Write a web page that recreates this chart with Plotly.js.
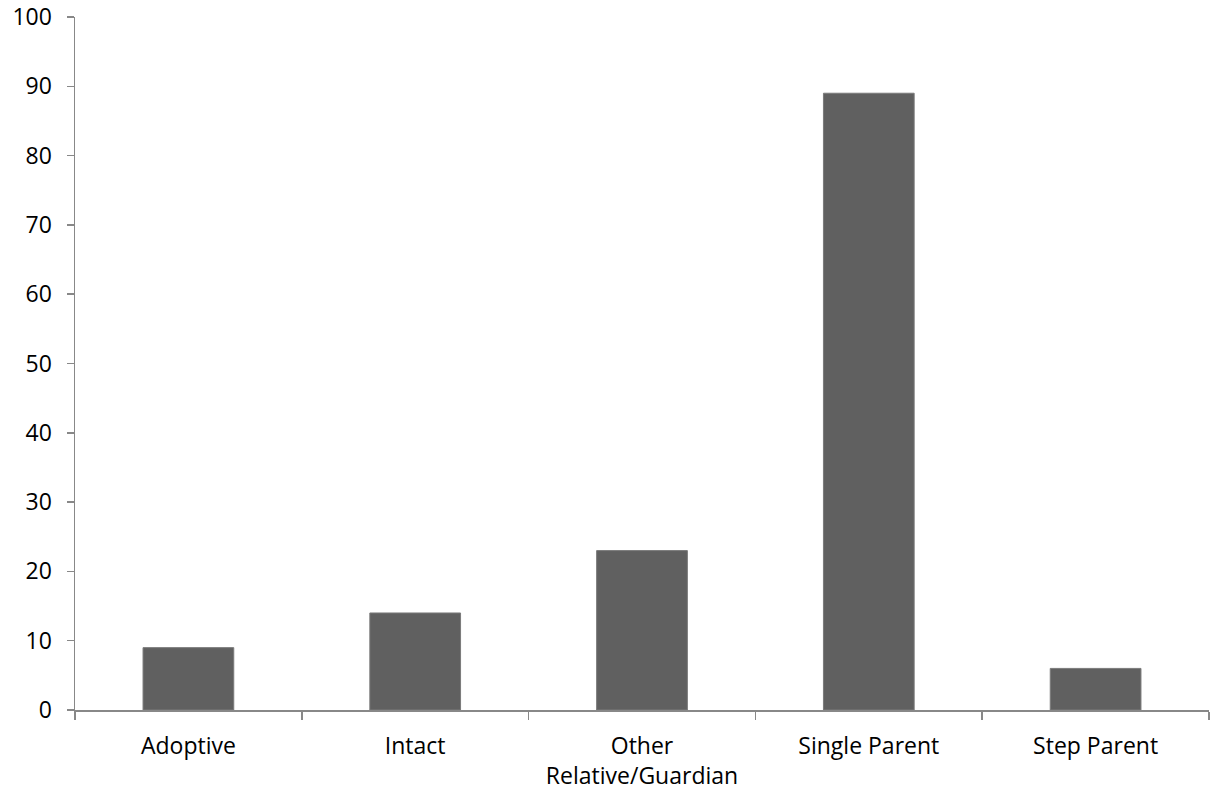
<!DOCTYPE html>
<html>
<head>
<meta charset="utf-8">
<script src="https://cdn.plot.ly/plotly-3.0.1.min.js"></script>
<style>html,body{margin:0;padding:0;background:#fff;}#chart{width:1210px;height:792px;}</style>
</head>
<body>
<div id="chart"></div>
<script>
const categories = ["Adoptive", "Intact", "Other<br>Relative/Guardian", "Single Parent", "Step Parent"];
const values = [9, 14, 23, 89, 6];
const yTicks = [0, 10, 20, 30, 40, 50, 60, 70, 80, 90, 100];

const trace = {
  type: "bar",
  x: categories,
  y: values,
  marker: {color: "#606060", line: {color: "#7a7a7a", width: 1}},
  hoverinfo: "x+y"
};

const layout = {
  width: 1210,
  height: 792,
  margin: {l: 75, r: 1, t: 17, b: 82},
  paper_bgcolor: "#ffffff",
  plot_bgcolor: "#ffffff",
  bargap: 0.6,
  showlegend: false,
  font: {family: "Open Sans, sans-serif", size: 23, color: "#000000"},
  xaxis: {
    type: "category",
    showline: true,
    linecolor: "#888888",
    linewidth: 1.5,
    ticks: "outside",
    tickson: "boundaries",
    ticklen: 8,
    tickcolor: "#888888",
    tickwidth: 1.5,
    showgrid: false,
    zeroline: false,
    ticklabelstandoff: 15,
    automargin: false
  },
  yaxis: {
    range: [0, 100],
    tickvals: yTicks,
    showline: true,
    linecolor: "#888888",
    linewidth: 1.5,
    ticks: "outside",
    ticklen: 7,
    tickcolor: "#888888",
    tickwidth: 1.5,
    showgrid: false,
    zeroline: false,
    ticklabelstandoff: 10,
    automargin: false
  }
};

Plotly.newPlot("chart", [trace], layout, {displayModeBar: false, staticPlot: true});
</script>
</body>
</html>
